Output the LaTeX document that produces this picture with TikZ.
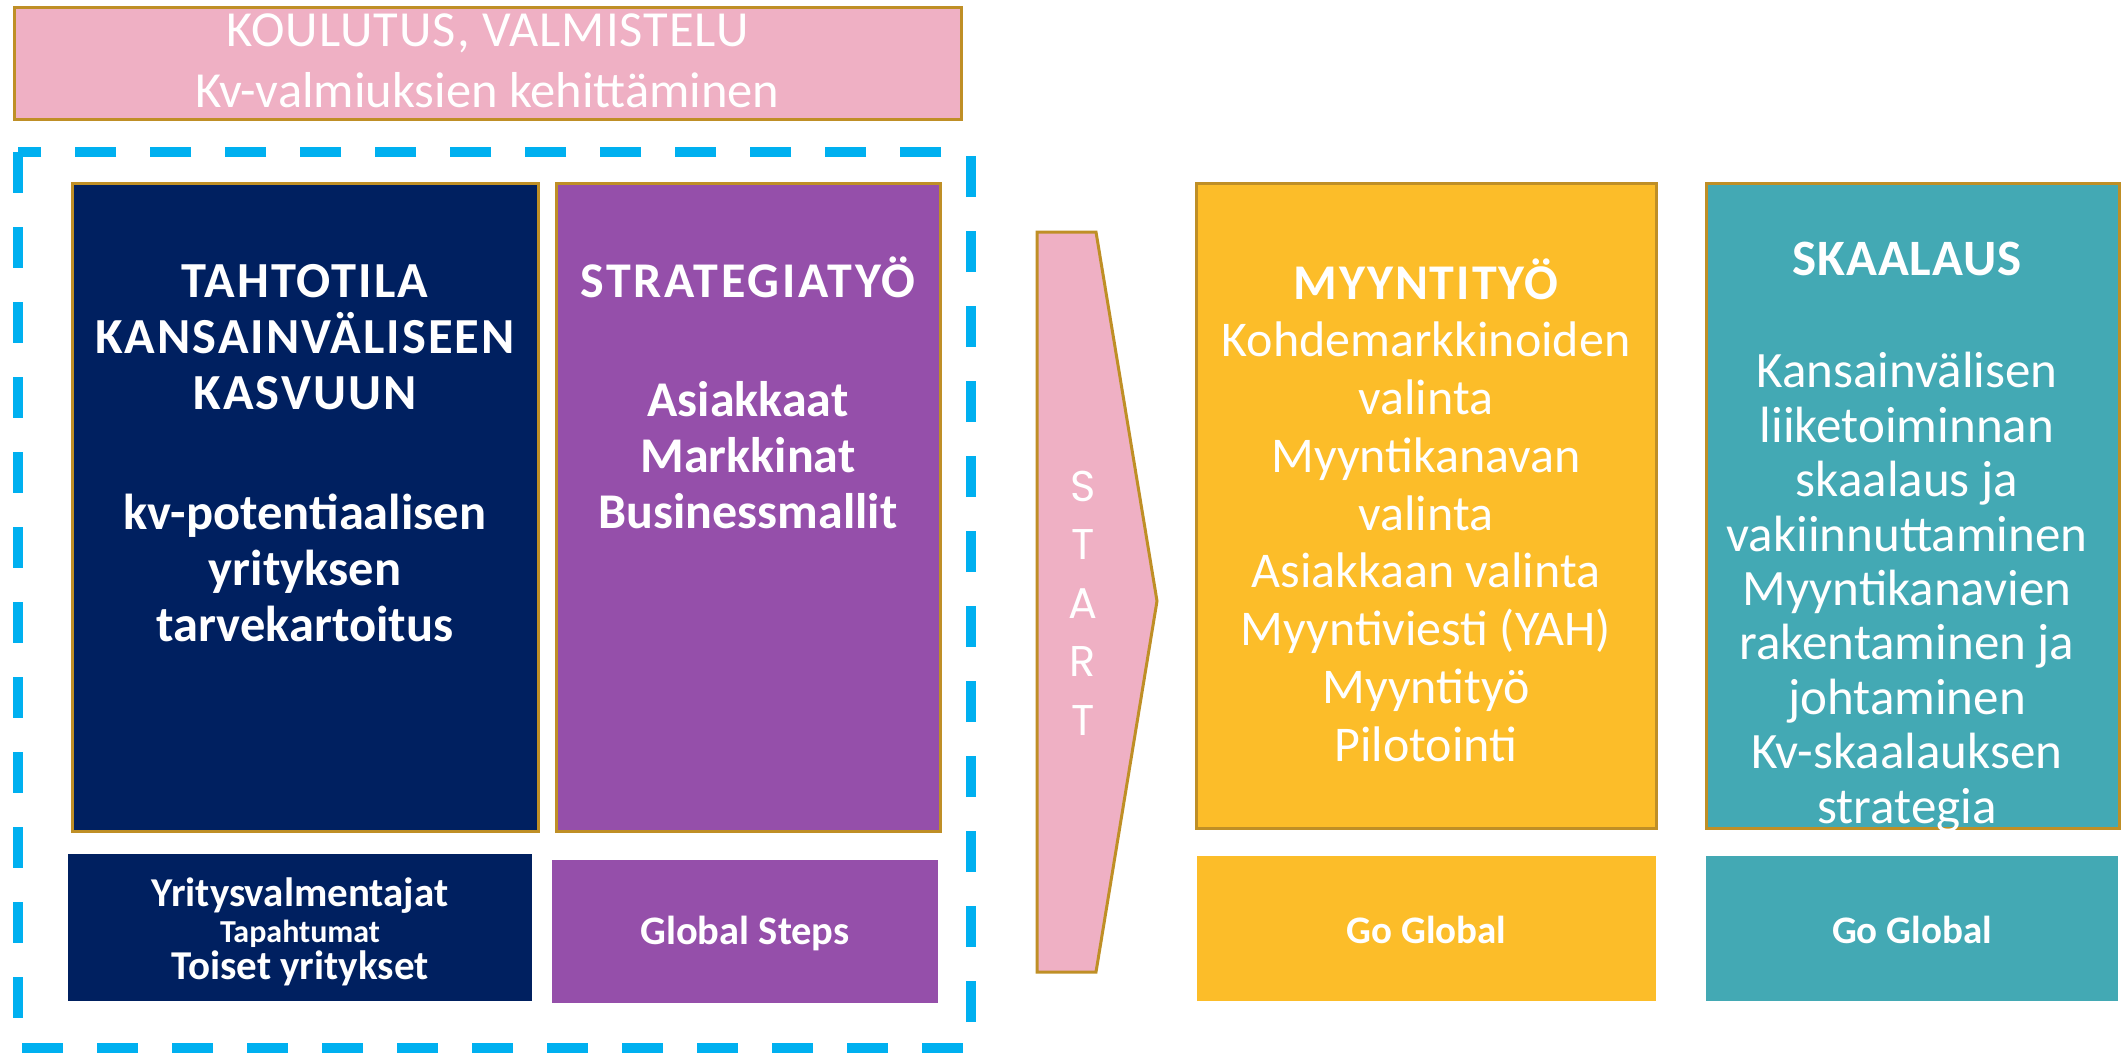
\documentclass[tikz,border=0pt]{standalone}
\usepackage{fontspec}
\setmainfont{Carlito}
\newfontfamily\startfont{Poppins}
\newcommand\capsp[1]{\addfontfeature{LetterSpace=#1}}
\definecolor{navy}{RGB}{0,32,96}
\definecolor{purp}{RGB}{149,79,170}
\definecolor{pinkc}{RGB}{239,176,196}
\definecolor{yell}{RGB}{252,189,41}
\definecolor{tealc}{RGB}{67,169,180}
\definecolor{goldb}{RGB}{191,143,38}
\definecolor{cyanb}{RGB}{0,176,240}
\begin{document}
\begin{tikzpicture}[x=1pt,y=-1pt,
  panel/.style={draw=goldb,line width=3pt,inner sep=0pt},
  plainbox/.style={draw=none,inner sep=0pt},
  wtxt/.style={text=white,align=center,inner sep=0pt},
]
\useasboundingbox (0,0) rectangle (2126,1053);
\fill[white] (0,0) rectangle (2126,1053);

% top banner
\node[panel,fill=pinkc,minimum width=947pt,minimum height=112pt] (top) at (487.5,63) {};
\node[wtxt,font=\fontsize{50.5}{61}\selectfont] (toptxt) at (487.5,60.5) {{\capsp{2}KOULUTUS, VALMISTELU}\\Kv-valmiuksien kehittäminen};

% dashed frame
\draw[cyanb,line width=10pt,dash pattern=on 41pt off 34pt] (18,152) rectangle (971,1048);

% main panels
\node[panel,fill=navy,minimum width=466pt,minimum height=648pt] (tahto) at (305,507) {};
\node[panel,fill=purp,minimum width=384pt,minimum height=648pt] (strat) at (748,507) {};
\node[panel,fill=yell,minimum width=460pt,minimum height=645pt] (myyn) at (1426,505.5) {};
\node[panel,fill=tealc,minimum width=413pt,minimum height=645pt] (skaal) at (1912.5,505.5) {};

% bottom boxes
\node[plainbox,fill=navy,minimum width=464pt,minimum height=147pt] (tahtob) at (300,927.5) {};
\node[plainbox,fill=purp,minimum width=386pt,minimum height=143pt] (stratb) at (745,931.5) {};
\node[plainbox,fill=yell,minimum width=459pt,minimum height=145pt] (myynb) at (1426.5,928.5) {};
\node[plainbox,fill=tealc,minimum width=412pt,minimum height=145pt] (skaalb) at (1912,928.5) {};

% START arrow
\draw[panel,fill=pinkc] (1037,232) -- (1096,232) -- (1157,601) -- (1096,972) -- (1037,972) -- cycle;
\node[wtxt,font=\startfont\fontsize{43}{58.5}\selectfont] (starttxt) at (1083,603) {S\\T\\A\\R\\T};

% texts
\node[wtxt,font=\bfseries\fontsize{50.5}{56}\selectfont] (tahtotxt) at (305,453)
  {{\capsp{4}TAHTOTILA}\\{\capsp{4}KANSAINVÄLISEEN}\\{\capsp{4}KASVUUN}\\[64pt]kv-potentiaalisen\\yrityksen\\tarvekartoitus};
\node[wtxt,font=\bfseries\fontsize{50}{56}\selectfont] (strattxt) at (748,393)
  {{\capsp{5.5}STRATEGIATYÖ}\\[63pt]Asiakkaat\\Markkinat\\Businessmallit};
\node[wtxt,font=\fontsize{50}{57.75}\selectfont] (myyntxt) at (1426,510)
  {{\bfseries\capsp{4}MYYNTITYÖ}\\Kohdemarkkinoiden\\valinta\\Myyntikanavan\\valinta\\Asiakkaan valinta\\Myyntiviesti (YAH)\\Myyntityö\\Pilotointi};
\node[wtxt,font=\fontsize{51}{54.4}\selectfont] (skaaltxt) at (1907,537)
  {{\bfseries\capsp{2}SKAALAUS}\\[58pt]Kansainvälisen\\liiketoiminnan\\skaalaus ja\\vakiinnuttaminen\\Myyntikanavien\\rakentaminen ja\\johtaminen\\Kv-skaalauksen\\strategia};

\node[wtxt,font=\bfseries\fontsize{41}{36.5}\selectfont] (tahtobtxt) at (300,931.5)
  {Yritysvalmentajat\\{\fontsize{32}{36.5}\selectfont Tapahtumat}\\Toiset yritykset};
\node[wtxt,font=\bfseries\fontsize{40.5}{48}\selectfont] (stratbtxt) at (745,933) {Global Steps};
\node[wtxt,font=\bfseries\fontsize{39}{48}\selectfont] (myynbtxt) at (1426.5,930) {Go Global};
\node[wtxt,font=\bfseries\fontsize{39}{48}\selectfont] (skaalbtxt) at (1912,930) {Go Global};
\end{tikzpicture}
\end{document}
